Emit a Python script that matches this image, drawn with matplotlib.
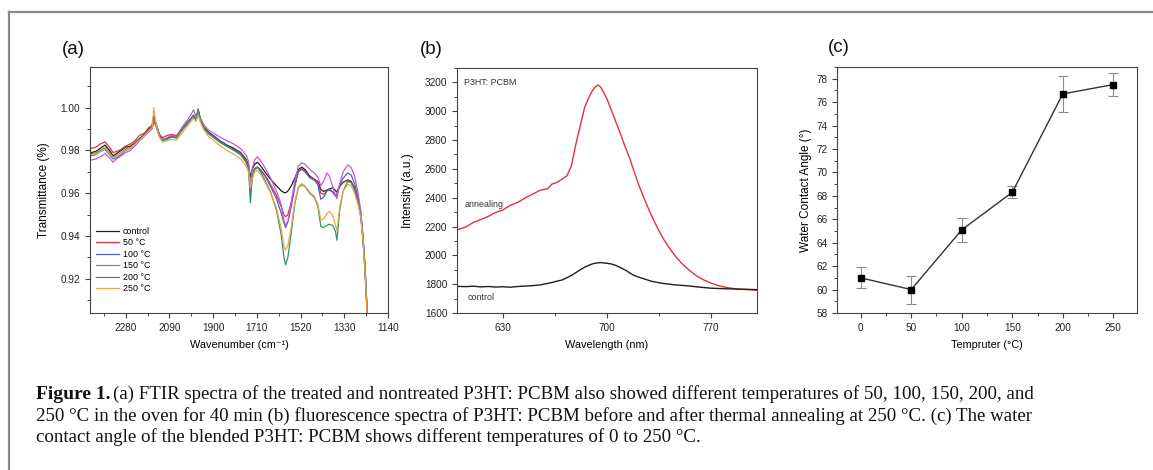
"""
plot.py - three-panel figure: FTIR spectra, PL spectra, water contact angle,
with the journal-style caption underneath.
"""

import matplotlib

matplotlib.use("Agg")
import matplotlib.pyplot as plt
import matplotlib.ticker as mticker
from matplotlib.lines import Line2D


# ---- panel (a): FTIR transmittance ------------------------------------------
WAVENUMBER = [2430, 2410, 2390, 2370, 2350, 2335, 2320, 2300, 2280, 2260,
              2240, 2220, 2200, 2180, 2165, 2158, 2150, 2135, 2120, 2100,
              2080, 2060, 2040, 2020, 2000, 1985, 1975, 1965, 1955, 1940,
              1920, 1900, 1870, 1840, 1810, 1780, 1755, 1745, 1738, 1730,
              1720, 1708, 1695, 1675, 1650, 1625, 1605, 1592, 1585, 1575,
              1560, 1545, 1530, 1515, 1500, 1480, 1460, 1445, 1432, 1420,
              1405, 1395, 1380, 1368, 1362, 1350, 1335, 1315, 1300, 1285,
              1270, 1258, 1248, 1240, 1234, 1228]

T_CONTROL = [0.9790, 0.9795, 0.9810, 0.9825, 0.9800, 0.9775, 0.9785, 0.9800, 0.9815, 0.9820,
             0.9835, 0.9855, 0.9875, 0.9905, 0.9915, 0.9960, 0.9935, 0.9880, 0.9850, 0.9855,
             0.9870, 0.9860, 0.9895, 0.9920, 0.9945, 0.9960, 0.9940, 0.9990, 0.9945, 0.9910,
             0.9885, 0.9870, 0.9845, 0.9825, 0.9810, 0.9790, 0.9755, 0.9725, 0.9675, 0.9710,
             0.9735, 0.9745, 0.9730, 0.9700, 0.9665, 0.9635, 0.9612, 0.9603, 0.9602, 0.9610,
             0.9635, 0.9670, 0.9710, 0.9722, 0.9710, 0.9680, 0.9665, 0.9655, 0.9618, 0.9608,
             0.9615, 0.9620, 0.9625, 0.9612, 0.9605, 0.9635, 0.9652, 0.9662, 0.9655, 0.9625,
             0.9570, 0.9500, 0.9380, 0.9250, 0.9120, 0.8990]
T_50 = [0.9810, 0.9815, 0.9830, 0.9840, 0.9815, 0.9790, 0.9795, 0.9805, 0.9820, 0.9830,
        0.9845, 0.9870, 0.9880, 0.9900, 0.9920, 0.9950, 0.9930, 0.9875, 0.9860, 0.9870,
        0.9875, 0.9870, 0.9890, 0.9915, 0.9940, 0.9965, 0.9945, 0.9985, 0.9940, 0.9905,
        0.9880, 0.9865, 0.9840, 0.9820, 0.9805, 0.9785, 0.9750, 0.9710, 0.9615, 0.9680,
        0.9715, 0.9722, 0.9712, 0.9685, 0.9640, 0.9590, 0.9540, 0.9500, 0.9490, 0.9500,
        0.9560, 0.9640, 0.9700, 0.9715, 0.9700, 0.9675, 0.9665, 0.9650, 0.9600, 0.9595,
        0.9610, 0.9615, 0.9605, 0.9590, 0.9595, 0.9630, 0.9650, 0.9660, 0.9650, 0.9620,
        0.9565, 0.9495, 0.9375, 0.9245, 0.9115, 0.8985]
T_100 = [0.9775, 0.9780, 0.9795, 0.9805, 0.9780, 0.9760, 0.9765, 0.9780, 0.9800, 0.9810,
         0.9830, 0.9850, 0.9870, 0.9890, 0.9905, 0.9930, 0.9920, 0.9870, 0.9845, 0.9855,
         0.9865, 0.9860, 0.9890, 0.9920, 0.9945, 0.9965, 0.9945, 0.9980, 0.9940, 0.9905,
         0.9880, 0.9865, 0.9840, 0.9822, 0.9805, 0.9785, 0.9745, 0.9705, 0.9595, 0.9670,
         0.9710, 0.9722, 0.9710, 0.9680, 0.9630, 0.9575, 0.9510, 0.9460, 0.9440, 0.9465,
         0.9540, 0.9630, 0.9700, 0.9712, 0.9700, 0.9672, 0.9660, 0.9640, 0.9572, 0.9580,
         0.9612, 0.9618, 0.9605, 0.9585, 0.9590, 0.9640, 0.9670, 0.9695, 0.9685, 0.9645,
         0.9580, 0.9505, 0.9385, 0.9255, 0.9125, 0.8995]
T_150 = [0.9755, 0.9760, 0.9770, 0.9785, 0.9765, 0.9745, 0.9760, 0.9775, 0.9790, 0.9800,
         0.9820, 0.9845, 0.9865, 0.9885, 0.9900, 0.9940, 0.9925, 0.9875, 0.9850, 0.9860,
         0.9870, 0.9865, 0.9900, 0.9930, 0.9960, 0.9990, 0.9960, 0.9975, 0.9950, 0.9920,
         0.9895, 0.9882, 0.9862, 0.9845, 0.9830, 0.9808, 0.9775, 0.9745, 0.9620, 0.9715,
         0.9755, 0.9770, 0.9755, 0.9720, 0.9670, 0.9610, 0.9550, 0.9470, 0.9450, 0.9470,
         0.9560, 0.9655, 0.9725, 0.9742, 0.9735, 0.9712, 0.9695, 0.9675, 0.9635, 0.9655,
         0.9695, 0.9680, 0.9630, 0.9590, 0.9575, 0.9645, 0.9700, 0.9732, 0.9720, 0.9680,
         0.9600, 0.9515, 0.9390, 0.9260, 0.9130, 0.9000]
T_200 = [0.9785, 0.9788, 0.9800, 0.9812, 0.9790, 0.9768, 0.9775, 0.9790, 0.9805, 0.9815,
         0.9832, 0.9852, 0.9872, 0.9895, 0.9910, 0.9945, 0.9928, 0.9872, 0.9848, 0.9852,
         0.9862, 0.9858, 0.9888, 0.9915, 0.9942, 0.9962, 0.9945, 0.9995, 0.9942, 0.9905,
         0.9878, 0.9862, 0.9838, 0.9818, 0.9800, 0.9778, 0.9742, 0.9700, 0.9555, 0.9675,
         0.9712, 0.9722, 0.9702, 0.9660, 0.9605, 0.9520, 0.9410, 0.9300, 0.9265, 0.9300,
         0.9420, 0.9550, 0.9625, 0.9640, 0.9630, 0.9600, 0.9580, 0.9540, 0.9445, 0.9440,
         0.9450, 0.9455, 0.9450, 0.9420, 0.9380, 0.9520, 0.9610, 0.9655, 0.9650, 0.9615,
         0.9555, 0.9490, 0.9370, 0.9240, 0.9110, 0.8980]
T_250 = [0.9780, 0.9782, 0.9795, 0.9808, 0.9785, 0.9765, 0.9772, 0.9788, 0.9802, 0.9812,
         0.9828, 0.9848, 0.9868, 0.9890, 0.9905, 1.0000, 0.9935, 0.9865, 0.9840, 0.9845,
         0.9852, 0.9848, 0.9875, 0.9902, 0.9930, 0.9950, 0.9935, 0.9965, 0.9930, 0.9895,
         0.9865, 0.9850, 0.9822, 0.9800, 0.9782, 0.9760, 0.9725, 0.9695, 0.9625, 0.9665,
         0.9700, 0.9708, 0.9690, 0.9652, 0.9600, 0.9530, 0.9440, 0.9350, 0.9335, 0.9355,
         0.9445, 0.9560, 0.9628, 0.9645, 0.9632, 0.9605, 0.9585, 0.9550, 0.9475, 0.9480,
         0.9505, 0.9515, 0.9495, 0.9450, 0.9425, 0.9535, 0.9610, 0.9642, 0.9635, 0.9600,
         0.9545, 0.9485, 0.9365, 0.9235, 0.9105, 0.8975]

FTIR_LABELS = ["control", "50 °C", "100 °C", "150 °C", "200 °C", "250 °C"]
FTIR_COLORS = ["#1f1f1f", "#e8313a", "#4a64c8", "#c55ad0", "#2b9a5e", "#f2a24a"]

# ---- panel (b): photoluminescence ---------------------------------------------
WAVELENGTH = [599, 605, 610, 615, 620, 625, 630, 635, 640, 645,
              650, 655, 660, 663, 666, 670, 673, 676, 679, 682,
              685, 688, 690, 692, 694, 696, 698, 700, 703, 706,
              709, 712, 715, 718, 721, 724, 727, 730, 734, 738,
              742, 746, 750, 755, 760, 765, 770, 775, 780, 785,
              790, 795, 801]
PL_ANNEALING = [2175, 2198, 2228, 2248, 2270, 2298, 2316, 2348, 2368, 2400,
                2425, 2452, 2462, 2495, 2505, 2530, 2552, 2620, 2770, 2900,
                3030, 3100, 3140, 3168, 3182, 3165, 3125, 3085, 3005, 2925,
                2845, 2760, 2680, 2590, 2500, 2420, 2345, 2275, 2190, 2115,
                2050, 1995, 1948, 1900, 1860, 1830, 1808, 1790, 1778, 1770,
                1765, 1762, 1758]
PL_CONTROL = [1785, 1783, 1786, 1781, 1784, 1780, 1782, 1779, 1784, 1787,
              1790, 1795, 1805, 1812, 1820, 1830, 1845, 1860, 1880, 1900,
              1918, 1932, 1940, 1945, 1948, 1950, 1947, 1945, 1940, 1930,
              1915, 1900, 1880, 1862, 1850, 1840, 1830, 1820, 1812, 1805,
              1800, 1795, 1792, 1788, 1782, 1777, 1772, 1770, 1768, 1767,
              1765, 1764, 1762]

# ---- panel (c): water contact angle -------------------------------------------
TEMPERATURE = [0, 50, 100, 150, 200, 250]
CONTACT_ANGLE = [61.0, 60.0, 65.1, 68.3, 76.7, 77.5]
ANGLE_ERR = [0.9, 1.2, 1.0, 0.5, 1.5, 1.0]

CAPTION = [
    "(a) FTIR spectra of the treated and nontreated P3HT: PCBM also showed different temperatures of 50, 100, 150, 200, and",
    "250 °C in the oven for 40 min (b) fluorescence spectra of P3HT: PCBM before and after thermal annealing at 250 °C. (c) The water",
    "contact angle of the blended P3HT: PCBM shows different temperatures of 0 to 250 °C.",
]

SANS = ["Liberation Sans", "DejaVu Sans"]
SERIF = ["Liberation Serif", "DejaVu Serif"]
W, H = 1153, 470

plt.rcParams["font.family"] = SANS
plt.rcParams["axes.linewidth"] = 0.8
plt.rcParams["axes.edgecolor"] = "#444444"


def _frac(left, top, right, bottom):
    return [left / W, 1 - bottom / H, (right - left) / W, (bottom - top) / H]


def _style_axes(ax):
    ax.tick_params(which="both", direction="out", color="#444444", labelsize=7.2,
                   labelcolor="#222222")
    ax.tick_params(which="major", length=3.5, width=0.8)
    ax.tick_params(which="minor", length=2, width=0.7)


fig = plt.figure(figsize=(W / 100, H / 100), dpi=100)
fig.patch.set_facecolor("white")

# outer frame: only top and left edges are visible in the crop
fig.add_artist(Line2D([9 / W, 9 / W], [0, 1 - 12 / H], color="#8a8a8a", lw=1.6,
                      transform=fig.transFigure))
fig.add_artist(Line2D([9 / W, 1], [1 - 12 / H, 1 - 12 / H], color="#8a8a8a", lw=1.6,
                      transform=fig.transFigure))

# ---- (a)
ax_a = fig.add_axes(_frac(90, 67, 388, 313))
series = [T_CONTROL, T_50, T_100, T_150, T_200, T_250]
for vals, lab, col in zip(series, FTIR_LABELS, FTIR_COLORS):
    ax_a.plot(WAVENUMBER, vals, color=col, lw=0.9, label=lab)
ax_a.set_xlim(2435, 1140)
ax_a.set_ylim(0.904, 1.019)
ax_a.xaxis.set_major_locator(mticker.MultipleLocator(190))
ax_a.xaxis.set_minor_locator(mticker.MultipleLocator(95))
ax_a.yaxis.set_major_locator(mticker.MultipleLocator(0.02))
ax_a.yaxis.set_minor_locator(mticker.MultipleLocator(0.01))
ax_a.yaxis.set_major_formatter(mticker.FormatStrFormatter("%.2f"))
ax_a.set_xlabel("Wavenumber (cm\u207b\u00b9)", fontsize=7.8, labelpad=5)
ax_a.set_ylabel("Transmittance (%)", fontsize=8.5, labelpad=7.5)
_style_axes(ax_a)
ax_a.legend(loc="lower left", bbox_to_anchor=(0.0, 0.055), frameon=False,
            fontsize=6.4, handlelength=2.6, handletextpad=0.4, labelspacing=0.28,
            borderaxespad=0.3)

# ---- (b)
ax_b = fig.add_axes(_frac(457, 68, 757, 313))
ax_b.plot(WAVELENGTH, PL_ANNEALING, color="#e8303a", lw=1.0)
ax_b.plot(WAVELENGTH, PL_CONTROL, color="#1f1f1f", lw=1.0)
ax_b.set_xlim(599, 801)
ax_b.set_ylim(1600, 3300)
ax_b.xaxis.set_major_locator(mticker.MultipleLocator(70))
ax_b.xaxis.set_minor_locator(mticker.MultipleLocator(35))
ax_b.yaxis.set_major_locator(mticker.MultipleLocator(200))
ax_b.yaxis.set_minor_locator(mticker.MultipleLocator(100))
ax_b.set_xlabel("Wavelength (nm)", fontsize=7.8, labelpad=5)
ax_b.set_ylabel("Intensity (a.u.)", fontsize=8.5, labelpad=8)
_style_axes(ax_b)
ax_b.text(604, 3200, "P3HT: PCBM", fontsize=6.4, va="center", color="#333333")
ax_b.text(604, 2354, "annealing", fontsize=6.4, va="center", color="#333333")
ax_b.text(606, 1711, "control", fontsize=6.4, va="center", color="#333333")

# ---- (c)
ax_c = fig.add_axes(_frac(837, 67, 1137, 313))
ax_c.errorbar(TEMPERATURE, CONTACT_ANGLE, yerr=ANGLE_ERR, color="#333333", lw=1.0,
              marker="s", markersize=4.5, markerfacecolor="black", markeredgecolor="black",
              ecolor="#8c8c8c", elinewidth=0.8, capsize=3.5, capthick=0.8)
ax_c.set_xlim(-23.5, 273.5)
ax_c.set_ylim(58, 79)
ax_c.xaxis.set_major_locator(mticker.MultipleLocator(50))
ax_c.xaxis.set_minor_locator(mticker.MultipleLocator(25))
ax_c.yaxis.set_major_locator(mticker.MultipleLocator(2))
ax_c.yaxis.set_minor_locator(mticker.MultipleLocator(1))
ax_c.set_xlabel("Tempruter (°C)", fontsize=7.8, labelpad=5)
ax_c.set_ylabel("Water Contact Angle (°)", fontsize=8.5, labelpad=3)
_style_axes(ax_c)

# panel letters
for x, y, txt in [(62, 50, "(a)"), (420, 49, "(b)"), (828, 47, "(c)")]:
    fig.text(x / W, 1 - y / H, txt, fontsize=13.5, va="center", ha="left",
             color="#111111")

# caption
fig.text(36 / W, 1 - 399 / H, "Figure 1.", fontsize=14, fontweight="bold",
         family=SERIF, va="baseline", ha="left", color="#111111")
fig.text(113 / W, 1 - 399 / H, CAPTION[0], fontsize=13.6, family=SERIF,
         va="baseline", ha="left", color="#111111")
fig.text(36 / W, 1 - 420.5 / H, CAPTION[1], fontsize=13.6, family=SERIF,
         va="baseline", ha="left", color="#111111")
fig.text(36 / W, 1 - 442 / H, CAPTION[2], fontsize=13.6, family=SERIF,
         va="baseline", ha="left", color="#111111")

fig.savefig("out.png", dpi=100, facecolor=fig.get_facecolor())
plt.close(fig)
